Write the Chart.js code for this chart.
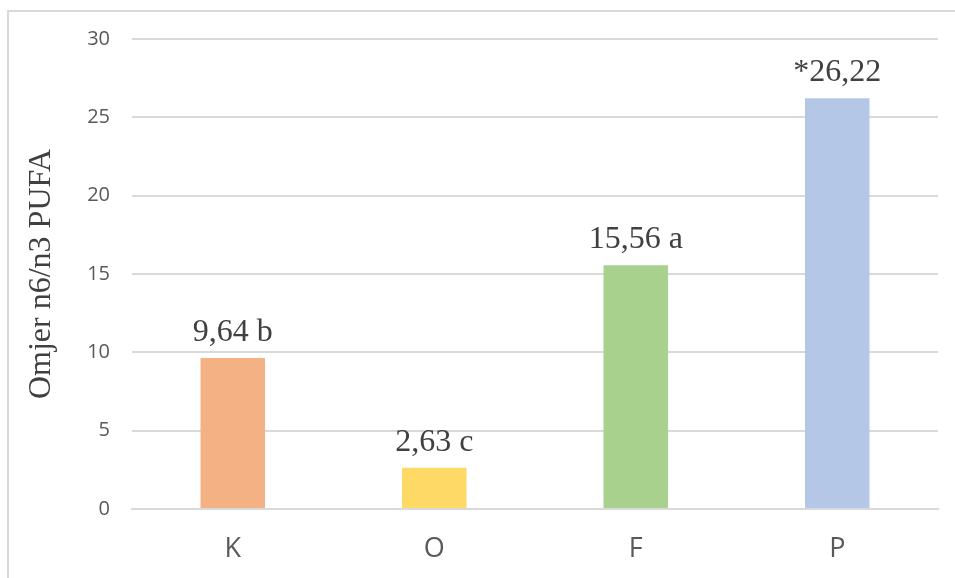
<!DOCTYPE html>
<html>
<head>
<meta charset="utf-8">
<script src="https://cdn.jsdelivr.net/npm/chart.js@4"></script>
<style>
  body { margin: 0; background: #fff; }
  #frame { position: absolute; left: 7px; top: 10px; width: 960px; height: 600px;
           border-left: 2px solid #d9d9d9; border-top: 2px solid #d9d9d9; }
  #wrap { position: absolute; left: 0; top: 0; width: 955px; height: 578px; }
</style>
</head>
<body>
<div id="frame"></div>
<div id="wrap"><canvas id="mycanvas"></canvas></div>
<script>
var groups = ['K', 'O', 'F', 'P'];
var ratio = [9.64, 2.63, 15.56, 26.22];
var labels = ['9,64 b', '2,63 c', '15,56 a', '*26,22'];
var colors = ['#F4B183', '#FFD966', '#A9D18E', '#B4C7E7'];
var yTicks = [0, 5, 10, 15, 20, 25, 30];

// labels above the bars
var barLabels = {
	id: 'barLabels',
	afterDatasetsDraw: function(chart) {
		var ctx = chart.ctx;
		var meta = chart.getDatasetMeta(0);
		ctx.save();
		ctx.font = '32px "Liberation Serif", "Times New Roman", serif';
		ctx.fillStyle = '#404040';
		ctx.textAlign = 'center';
		ctx.textBaseline = 'alphabetic';
		meta.data.forEach(function(bar, i) {
			ctx.fillText(labels[i], bar.x, bar.y - 17);
		});
		ctx.restore();
	}
};

var ctx = document.getElementById('mycanvas');

var chart = new Chart(ctx, {
	type: 'bar',
	data: {
		labels: groups,
		datasets: [{
			data: ratio,
			backgroundColor: colors,
			categoryPercentage: 1,
			barPercentage: 0.32
		}]
	},
	options: {
		responsive: true,
		maintainAspectRatio: false,
		animation: false,
		layout: { padding: { top: 39, right: 17, bottom: 0, left: 0 } },
		plugins: { legend: { display: false }, tooltip: { enabled: false } },
		scales: {
			x: {
				grid: { display: false, drawTicks: false },
				border: { display: true, color: '#d9d9d9', width: 2 },
				ticks: { color: '#595959', padding: 24, font: { family: '"Open Sans", sans-serif', size: 27 } },
				afterFit: function(s) { s.height = 69; }
			},
			y: {
				min: 0,
				max: 30,
				afterBuildTicks: function(s) { s.ticks = yTicks.map(function(v) { return { value: v }; }); },
				grid: { color: '#d9d9d9', lineWidth: 2, drawTicks: false },
				border: { display: false },
				ticks: { color: '#595959', padding: 22, font: { family: '"Open Sans", sans-serif', size: 20 } },
				title: {
					display: true,
					text: 'Omjer n6/n3 PUFA',
					color: '#404040',
					font: { family: '"Liberation Serif", "Times New Roman", serif', size: 32 },
					padding: { top: 22, bottom: 0 }
				},
				afterFit: function(s) { s.width = 132; }
			}
		}
	},
	plugins: [barLabels]
});
</script>
</body>
</html>
